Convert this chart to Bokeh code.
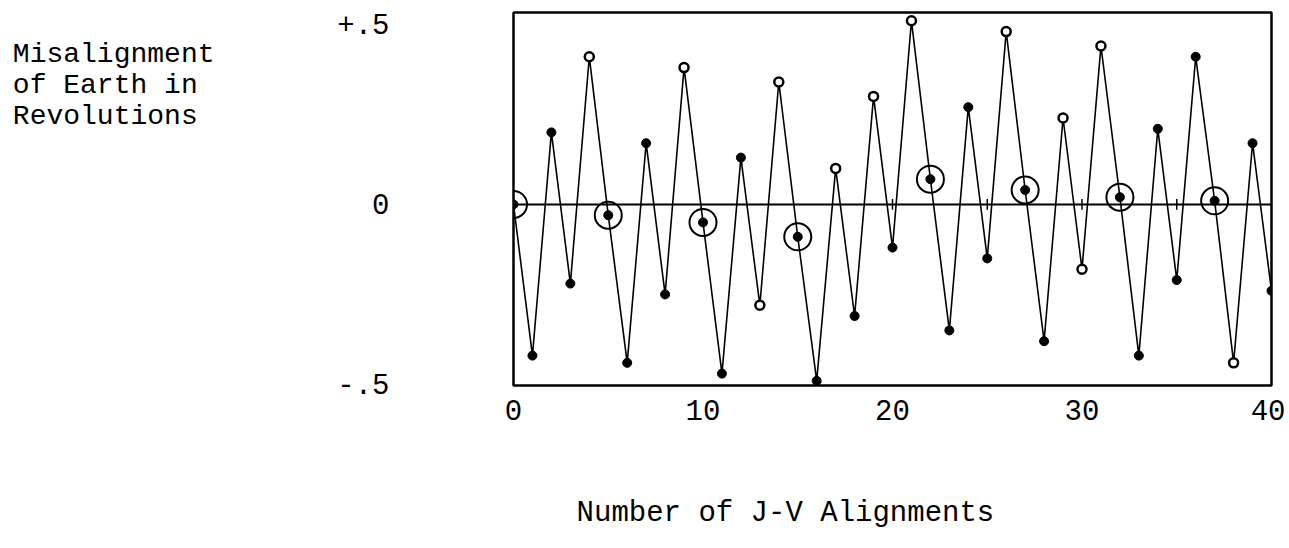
from bokeh.plotting import figure
from bokeh.models import Range1d, FixedTicker, Span, LinearAxis
from bokeh.embed import file_html
from bokeh.resources import INLINE

# ---- data ----
alignments = list(range(41))
misalignment = [
    0.00, -0.42, 0.20, -0.22, 0.41, -0.03, -0.44, 0.17, -0.25, 0.38,
    -0.05, -0.47, 0.13, -0.28, 0.34, -0.09, -0.49, 0.10, -0.31, 0.30,
    -0.12, 0.51, 0.07, -0.35, 0.27, -0.15, 0.48, 0.04, -0.38, 0.24,
    -0.18, 0.44, 0.02, -0.42, 0.21, -0.21, 0.41, 0.01, -0.44, 0.17,
    -0.24,
]
hollow_idx = [4, 9, 13, 14, 17, 19, 21, 26, 29, 30, 31, 38]
circled_idx = [0, 5, 10, 15, 22, 27, 32, 37]
zero_ticks = [20, 25, 30, 35]
x_ticks = [0, 10, 20, 30, 40]
y_ticks = [-0.5, 0, 0.5]
y_tick_labels = {0.5: "+.5", 0: "0", -0.5: "-.5"}
y_title = "Misalignment\nof Earth in \nRevolutions "
x_title = "Number of J-V Alignments"

FONT = "Liberation Mono"
Y_TITLE_POS = 0.33   # vertical anchor of the y title block (data units)
X_TITLE_POS = 14.35  # horizontal anchor of the x title (data units)

p = figure(width=1285, height=544, output_backend="svg", toolbar_location=None,
           x_range=Range1d(0, 40), y_range=Range1d(-0.503, 0.533),
           min_border_left=513, min_border_right=14, min_border_top=12,
           min_border_bottom=159)
p.grid.visible = False
p.outline_line_color = "black"
p.outline_line_width = 2.5
p.background_fill_color = "white"
p.border_fill_color = "white"


def plain(ax, size, standoff):
    ax.axis_line_color = None
    ax.major_tick_line_color = None
    ax.minor_tick_line_color = None
    ax.major_tick_out = 0
    ax.major_tick_in = 0
    ax.major_label_text_font = FONT
    ax.major_label_text_font_size = size
    ax.major_label_text_color = "black"
    ax.major_label_standoff = standoff


# axes
p.xaxis.ticker = FixedTicker(ticks=x_ticks)
p.yaxis.ticker = FixedTicker(ticks=y_ticks)
p.yaxis.major_label_overrides = y_tick_labels
plain(p.yaxis[0], "29px", 124)
plain(p.xaxis[0], "29px", 14)

# y title: an extra left axis carrying the three-line title as its only label
title_axis_y = LinearAxis(ticker=FixedTicker(ticks=[Y_TITLE_POS]),
                          major_label_overrides={Y_TITLE_POS: y_title},
                          major_label_text_line_height=1.0)
plain(title_axis_y, "28px", 120)
p.add_layout(title_axis_y, "left")

# x title: an extra bottom axis carrying the title as its only label
title_axis_x = LinearAxis(ticker=FixedTicker(ticks=[X_TITLE_POS]),
                          major_label_overrides={X_TITLE_POS: x_title})
plain(title_axis_x, "29px", 74)
p.add_layout(title_axis_x, "below")

# zero line
p.add_layout(Span(location=0, dimension="width", line_color="black", line_width=2))

# small ticks on zero line
p.segment(x0=zero_ticks, y0=[-0.015] * len(zero_ticks), x1=zero_ticks,
          y1=[0.015] * len(zero_ticks), line_color="black", line_width=1.5)

# zigzag line
p.line(alignments, misalignment, line_color="black", line_width=1.6)

filled_x = [alignments[i] for i in range(len(alignments)) if i not in hollow_idx]
filled_y = [misalignment[i] for i in range(len(alignments)) if i not in hollow_idx]
p.scatter(filled_x, filled_y, size=9, fill_color="black", line_color="black")

hol_x = [alignments[i] for i in hollow_idx]
hol_y = [misalignment[i] for i in hollow_idx]
p.scatter(hol_x, hol_y, size=9, fill_color="white", line_color="black", line_width=2.5)

cir_x = [alignments[i] for i in circled_idx]
cir_y = [misalignment[i] for i in circled_idx]
p.scatter(cir_x, cir_y, size=27, fill_color=None, line_color="black", line_width=2)

open("out.html", "w").write(file_html(p, INLINE))
